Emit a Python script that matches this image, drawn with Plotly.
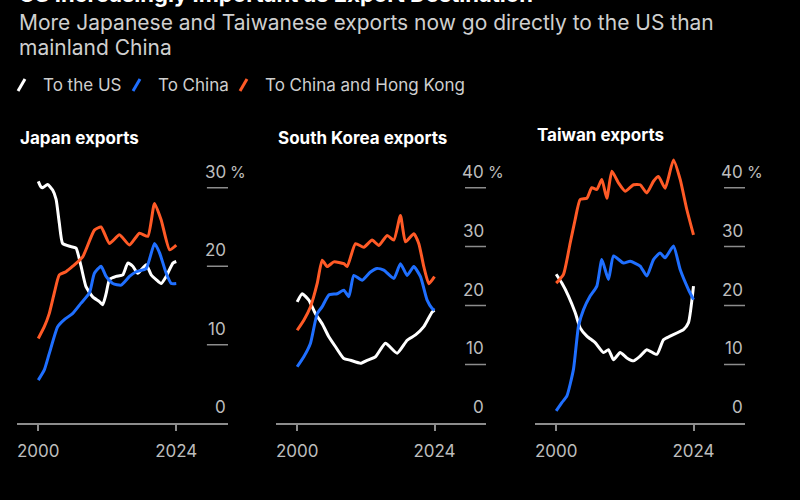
import plotly.graph_objects as go

# Share of exports by destination, %
japan_us_years = [2000.0, 2000.46, 2000.76, 2001.63, 2002.5, 2003.1, 2003.66, 2004.24, 2005.7, 2006.57,
                  2007.44, 2008.3, 2009.47, 2010.63, 2011.2, 2011.8, 2012.38, 2013.54, 2014.7, 2015.57,
                  2016.44, 2017.3, 2018.77, 2019.64, 2020.5, 2021.38, 2022.25, 2023.42, 2024.0]
japan_us = [30.8, 30.1, 30.0, 30.4, 29.7, 28.5, 25.5, 22.9, 22.5, 22.3,
            20.0, 17.4, 16.1, 15.5, 15.1, 16.5, 18.3, 18.7, 18.9, 20.4,
            20.0, 19.1, 20.2, 18.9, 18.3, 17.8, 18.7, 20.4, 20.6]
japan_cn_years = [2000.0, 2001.05, 2001.92, 2003.37, 2004.53, 2006.0, 2007.44, 2008.9, 2009.76, 2010.92,
                  2011.8, 2012.96, 2014.41, 2015.86, 2017.03, 2018.77, 2020.22, 2021.1, 2022.25, 2023.13, 2024.0]
japan_cn = [5.5, 6.8, 8.9, 12.3, 13.2, 14.0, 15.3, 16.6, 19.1, 20.0,
            18.7, 17.8, 17.6, 18.7, 19.3, 19.7, 22.9, 21.7, 19.1, 17.8, 17.8]
japan_cnhk_years = [2000.0, 2001.05, 2001.92, 2002.79, 2003.66, 2004.82, 2006.0, 2007.73, 2009.76, 2010.92,
                    2012.38, 2014.12, 2015.86, 2017.6, 2019.06, 2020.22, 2021.38, 2022.84, 2024.0]
japan_cnhk = [10.8, 12.3, 14.0, 16.6, 18.9, 19.3, 20.0, 21.2, 24.6, 25.0,
              22.9, 24.0, 22.7, 24.2, 23.8, 28.0, 25.9, 22.1, 22.7]

korea_us_years = [2000.0, 2000.87, 2002.04, 2003.2, 2004.37, 2005.53, 2006.7, 2008.15, 2009.32, 2011.07,
                  2012.23, 2013.69, 2015.43, 2017.47, 2019.22, 2020.68, 2022.13, 2023.59, 2024.0]
korea_us = [20.6, 22.0, 20.9, 18.6, 16.9, 14.7, 13.0, 11.0, 10.7, 10.2,
            10.7, 11.3, 13.6, 11.9, 14.1, 15.0, 16.4, 18.9, 19.2]
korea_cn_years = [2000.0, 2001.16, 2002.33, 2003.49, 2004.37, 2005.53, 2006.99, 2008.15, 2009.03, 2009.9,
                  2011.36, 2012.81, 2013.98, 2015.14, 2016.89, 2018.05, 2019.22, 2020.38, 2021.55, 2022.71,
                  2023.59, 2024.0]
korea_cn = [9.6, 11.3, 13.6, 18.6, 19.8, 21.8, 22.0, 22.6, 21.5, 25.1,
            24.3, 25.7, 26.3, 26.0, 24.6, 27.1, 25.1, 26.6, 24.9, 20.9,
            19.5, 19.2]
korea_cnhk_years = [2000.0, 2001.16, 2002.33, 2003.49, 2004.37, 2005.24, 2006.41, 2008.15, 2008.74, 2010.19,
                    2011.65, 2013.1, 2014.27, 2015.73, 2016.89, 2018.05, 2018.93, 2020.38, 2021.26, 2022.13,
                    2023.01, 2024.0]
korea_cnhk = [15.8, 17.5, 19.8, 23.7, 27.7, 26.6, 27.4, 27.1, 26.6, 30.5,
              29.9, 31.1, 30.2, 31.9, 31.1, 35.3, 30.8, 32.2, 30.5, 26.6,
              23.7, 24.9]

taiwan_us_years = [2000.0, 2000.99, 2002.15, 2003.32, 2004.19, 2005.36, 2006.81, 2008.27, 2009.14, 2010.02,
                   2011.18, 2012.35, 2013.51, 2014.68, 2015.84, 2017.59, 2018.75, 2019.92, 2022.25, 2023.12,
                   2024.0]
taiwan_us = [25.3, 23.8, 21.6, 18.8, 16.2, 14.8, 13.7, 12.0, 12.5, 10.8,
             12.0, 11.1, 10.6, 11.4, 12.5, 11.7, 14.2, 14.8, 15.9, 17.1,
             23.3]
taiwan_cn_years = [2000.0, 2000.99, 2001.86, 2003.03, 2003.9, 2004.78, 2005.94, 2007.11, 2007.98, 2009.14,
                   2010.02, 2011.76, 2012.93, 2014.68, 2015.84, 2017.01, 2018.17, 2019.04, 2020.5, 2021.67,
                   2023.12, 2024.0]
taiwan_cn = [2.1, 3.5, 4.6, 9.2, 16.5, 19.3, 21.6, 23.3, 27.8, 24.4,
             28.4, 27.2, 27.5, 26.7, 25.0, 27.8, 28.9, 28.1, 30.1, 26.1,
             22.7, 21.0]
taiwan_cnhk_years = [2000.0, 2001.28, 2002.45, 2003.32, 2004.19, 2005.36, 2006.23, 2007.11, 2007.98, 2008.85,
                     2009.73, 2010.89, 2012.06, 2013.51, 2014.68, 2015.84, 2017.01, 2017.88, 2019.04, 2020.5,
                     2021.67, 2022.83, 2024.0]
taiwan_cnhk = [23.8, 25.3, 30.6, 34.6, 38.0, 38.2, 40.0, 39.7, 41.4, 38.2,
               42.8, 40.8, 39.4, 40.5, 40.5, 39.1, 41.1, 41.9, 39.9, 44.7,
               41.4, 36.3, 32.0]

series_names = ["To the US", "To China", "To China and Hong Kong"]
panel_titles = ["Japan exports", "South Korea exports", "Taiwan exports"]
y_ticks = [[0, 10, 20, 30], [0, 10, 20, 30, 40], [0, 10, 20, 30, 40]]
x_ticks = [2000, 2024]

FONT = "Inter, Roboto, 'Liberation Sans', sans-serif"
COLORS = ["#ffffff", "#1f6fff", "#ff5a26"]
GRID = "#8c8c8c"
LABEL = "#bdbdbd"
W, H = 800, 500

panels = [
    [(japan_us_years, japan_us), (japan_cn_years, japan_cn), (japan_cnhk_years, japan_cnhk)],
    [(korea_us_years, korea_us), (korea_cn_years, korea_cn), (korea_cnhk_years, korea_cnhk)],
    [(taiwan_us_years, taiwan_us), (taiwan_cn_years, taiwan_cn), (taiwan_cnhk_years, taiwan_cnhk)],
]

# pixel placement of each panel (left, right) and shared vertical span
x_px = [(17, 228), (276, 486), (535, 745)]
y_top_px, y_bot_px = 150, 423.3
y_max = [34.8, 46.4, 46.4]
title_px = [(18, 138), (276, 138), (535, 135)]


def px_x(p):
    return p / W


def px_y(p):
    return 1 - p / H


fig = go.Figure()

for i, panel in enumerate(panels):
    suffix = "" if i == 0 else str(i + 1)
    for j, (xs, ys) in enumerate(panel):
        fig.add_trace(go.Scatter(x=xs, y=ys, mode="lines", name=series_names[j],
                                 line=dict(color=COLORS[j], width=3, shape="spline", smoothing=0.5),
                                 xaxis="x" + suffix, yaxis="y" + suffix, showlegend=False,
                                 hoverinfo="skip"))

    fig.update_layout(**{
        "xaxis" + suffix: dict(domain=[px_x(x_px[i][0]), px_x(x_px[i][1])],
                               range=[1996.3, 2033.0], tickvals=x_ticks,
                               ticks="outside", ticklen=6, tickwidth=1.5, tickcolor=GRID,
                               showline=True, linecolor=GRID, linewidth=1.5,
                               showgrid=False, zeroline=False, ticklabelstandoff=6,
                               tickfont=dict(family=FONT, size=17, color=LABEL),
                               anchor="y" + suffix, fixedrange=True),
        "yaxis" + suffix: dict(domain=[px_y(y_bot_px), px_y(y_top_px)],
                               range=[0, y_max[i]], visible=False,
                               anchor="x" + suffix, fixedrange=True),
    })

    xd = "x" + suffix + " domain"
    yr = "y" + suffix
    for k, v in enumerate(y_ticks[i]):
        if v > 0:
            fig.add_shape(type="line", xref=xd, yref=yr, x0=0.9, x1=1.0, y0=v, y1=v,
                          line=dict(color=GRID, width=1.5))
        fig.add_annotation(xref=xd, yref=yr, x=1.0, y=v, yshift=16, text=str(v),
                           xanchor="right", yanchor="middle", showarrow=False,
                           font=dict(family=FONT, size=17, color=LABEL))
        if k == len(y_ticks[i]) - 1:
            fig.add_annotation(xref=xd, yref=yr, x=1.0, y=v, yshift=16, xshift=0, text="%",
                               xanchor="left", yanchor="middle", showarrow=False,
                               font=dict(family=FONT, size=16, color=LABEL))

    fig.add_annotation(xref="paper", yref="paper", x=px_x(title_px[i][0]), y=px_y(title_px[i][1]),
                       text="<b>" + panel_titles[i] + "</b>", xanchor="left", yanchor="middle",
                       showarrow=False, font=dict(family=FONT, size=17, color="#ffffff"))

# headline, cut off at the top as in the source image
fig.add_annotation(xref="paper", yref="paper", x=px_x(17), y=px_y(-6.5),
                   text="<b>US Increasingly Important as Export Destination</b>",
                   xanchor="left", yanchor="middle", showarrow=False,
                   font=dict(family=FONT, size=22, color="#ffffff"))
for line_text, cy in [("More Japanese and Taiwanese exports now go directly to the US than", 22),
                      ("mainland China", 47.5)]:
    fig.add_annotation(xref="paper", yref="paper", x=px_x(17), y=px_y(cy), text=line_text,
                       xanchor="left", yanchor="middle", showarrow=False,
                       font=dict(family=FONT, size=21, color="#cfcfcf"))

# legend made of slashes and labels
legend_px = [(18, 41), (133, 156), (240, 263)]
for j, name in enumerate(series_names):
    sx, tx = legend_px[j]
    fig.add_shape(type="line", xref="paper", yref="paper",
                  x0=px_x(sx), y0=px_y(91), x1=px_x(sx + 7), y1=px_y(79),
                  line=dict(color=COLORS[j], width=3))
    fig.add_annotation(xref="paper", yref="paper", x=px_x(tx), y=px_y(85), text=name,
                       xanchor="left", yanchor="middle", showarrow=False,
                       font=dict(family=FONT, size=17, color="#cfcfcf"))

fig.update_layout(width=W, height=H, margin=dict(l=0, r=0, t=0, b=0),
                  paper_bgcolor="#000000", plot_bgcolor="#000000", showlegend=False)

# page body margin would push the figure 8px down and right
fig.write_html("out.html", config={"displayModeBar": False},
               post_script="document.body.style.margin='0';document.body.style.background='#000';")
